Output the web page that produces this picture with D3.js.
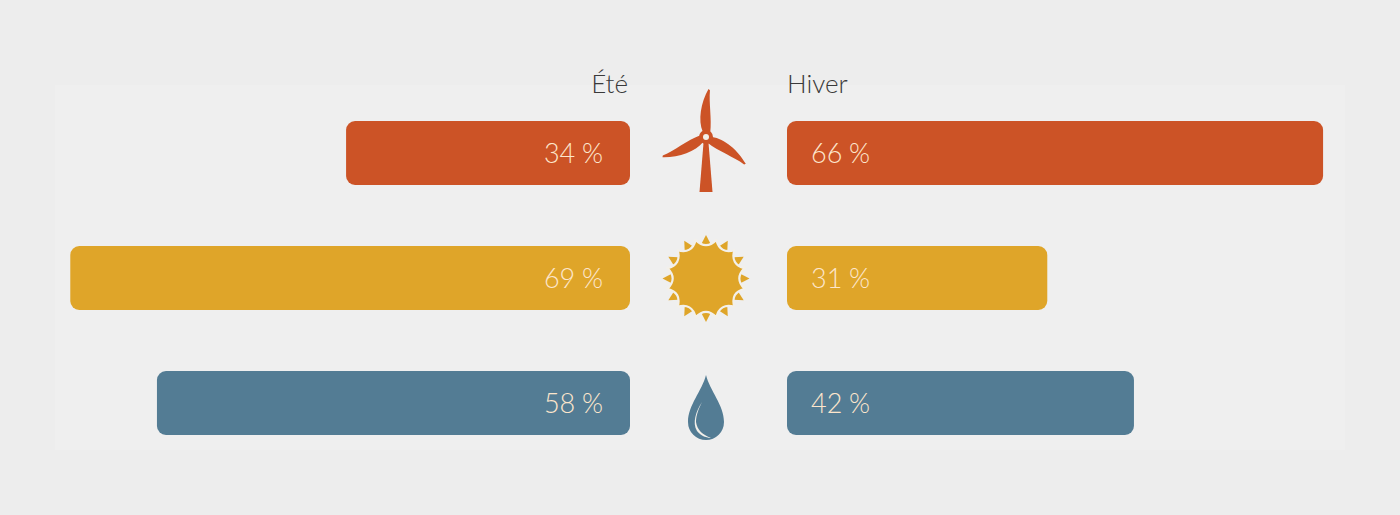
<!DOCTYPE html>
<html>
<head>
<meta charset="utf-8">
<script src="https://cdn.jsdelivr.net/npm/d3@7"></script>
<style>
  html, body { margin: 0; padding: 0; background: #ededed; }
  svg { display: block; }
  .hdr { font-family: Lato, "Open Sans", sans-serif; font-weight: 300; fill: #3a3a3a; font-size: 26px; }
  .val { font-family: Lato, "Open Sans", sans-serif; font-weight: 300; fill: #fde6cc; font-size: 27px; }
</style>
</head>
<body>
<svg id="chart" width="1400" height="515"></svg>
<script>
// data
const sources = ['eolien', 'solaire', 'hydraulique'];
const ete = [34, 69, 58];
const hiver = [66, 31, 42];
const colors = ['#cc5326', '#dfa529', '#537c94'];
const headers = ['Été', 'Hiver'];

const leftEdge = 630, rightEdge = 787, mid = 706;

const svg = d3.select('#chart');

// faint panel behind the chart
svg.append('rect')
  .attr('x', 55).attr('y', 85)
  .attr('width', 1290).attr('height', 365)
  .attr('fill', '#efefef');

const y = d3.scaleBand()
  .domain(sources)
  .range([90.5, 465.5])
  .paddingInner(0.488)
  .paddingOuter(0.244);

const w = d3.scaleLinear().domain([0, 100]).range([16, 804]);

const fmt = v => `${v}\u202F%`;

const rows = sources.map((s, i) => ({ key: s, ete: ete[i], hiver: hiver[i], color: colors[i] }));

// headers
svg.append('text').attr('class', 'hdr')
  .attr('x', leftEdge - 2).attr('y', 93)
  .attr('text-anchor', 'end')
  .text(headers[0]);
svg.append('text').attr('class', 'hdr')
  .attr('x', rightEdge).attr('y', 93)
  .text(headers[1]);

const g = svg.selectAll('g.row')
  .data(rows)
  .join('g')
  .attr('class', 'row')
  .attr('transform', d => `translate(0, ${y(d.key)})`);

// summer bars (grow to the left)
g.append('rect')
  .attr('x', d => leftEdge - w(d.ete))
  .attr('width', d => w(d.ete))
  .attr('height', y.bandwidth())
  .attr('rx', 9)
  .attr('fill', d => d.color);

g.append('text').attr('class', 'val')
  .attr('x', leftEdge - 27)
  .attr('y', y.bandwidth() / 2 + 10)
  .attr('text-anchor', 'end')
  .text(d => fmt(d.ete));

// winter bars (grow to the right)
g.append('rect')
  .attr('x', rightEdge)
  .attr('width', d => w(d.hiver))
  .attr('height', y.bandwidth())
  .attr('rx', 9)
  .attr('fill', d => d.color);

g.append('text').attr('class', 'val')
  .attr('x', rightEdge + 24)
  .attr('y', y.bandwidth() / 2 + 10)
  .text(d => fmt(d.hiver));

// icons
const cream = '#f3f0ea';

function windIcon(sel, color) {
  const ic = sel.append('g').attr('transform', `translate(${mid}, 16)`);
  // tower
  ic.append('path')
    .attr('d', 'M-2.5,6 L2.5,6 L6.5,55 L-6.5,55 Z')
    .attr('fill', color);
  const blade = 'M-3.5,-5 C-9,-16 -7,-34 0,-48 L1.5,-47 C1,-34 5,-18 4,-5 Z';
  [3, -115, 124].forEach(a => {
    ic.append('path')
      .attr('d', blade)
      .attr('transform', `rotate(${a})`)
      .attr('fill', color);
  });
  ic.append('circle').attr('r', 7).attr('fill', color);
  ic.append('circle').attr('r', 3).attr('fill', cream);
}

function sunIcon(sel, color) {
  const ic = sel.append('g').attr('transform', `translate(${mid}, ${y.bandwidth() / 2 + 0.5})`);
  const n = 12, rPt = 40, rCtl = 28;
  // rays sitting in the notches
  for (let k = 0; k < n; k++) {
    ic.append('path')
      .attr('d', 'M-7,-30 L7,-30 L0,-43.5 Z')
      .attr('transform', `rotate(${(k * 360) / n})`)
      .attr('fill', color);
  }
  // body with concave edges
  const step = (2 * Math.PI) / n;
  const pol = (r, a) => [Math.sin(a) * r, -Math.cos(a) * r];
  let d = '';
  for (let k = 0; k < n; k++) {
    const p0 = pol(rPt, k * step - step / 2);
    const c = pol(rCtl, k * step);
    const p1 = pol(rPt, k * step + step / 2);
    if (k === 0) d += `M${p0[0]},${p0[1]}`;
    d += `Q${c[0]},${c[1]} ${p1[0]},${p1[1]}`;
  }
  ic.append('path')
    .attr('d', d + 'Z')
    .attr('fill', color)
    .attr('stroke', cream).attr('stroke-width', 2.2)
    .attr('stroke-linejoin', 'round');
}

function dropIcon(sel, color) {
  const ic = sel.append('g').attr('transform', `translate(${mid}, 0)`);
  ic.append('path')
    .attr('d', 'M0,4 C4,20 18,34 18,51 A18,18 0 0 1 -18,51 C-18,34 -4,20 0,4 Z')
    .attr('fill', color);
  ic.append('path')
    .attr('d', 'M-4,31 C-10,40 -14,52 -9,60 C-5,65 1,67 5,67 C-3,64 -9,59 -10,51 C-10,44 -7,37 -4,31 Z')
    .attr('fill', cream);
}

const iconFns = { eolien: windIcon, solaire: sunIcon, hydraulique: dropIcon };
g.each(function (d) {
  iconFns[d.key](d3.select(this), d.color);
});
</script>
</body>
</html>
